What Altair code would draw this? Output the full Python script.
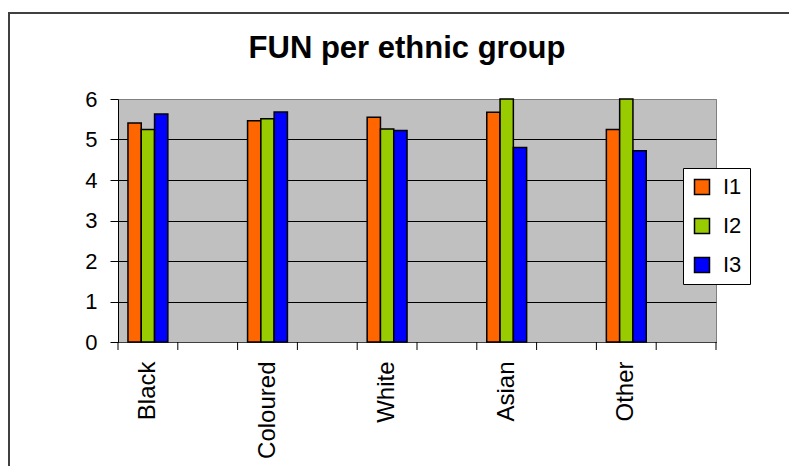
import altair as alt
import pandas as pd

title_text = "FUN per ethnic group"
categories = ["Black", "Coloured", "White", "Asian", "Other"]
series = ["I1", "I2", "I3"]
l1 = [5.41, 5.46, 5.55, 5.67, 5.25]
l2 = [5.25, 5.51, 5.26, 6.00, 6.00]
l3 = [5.63, 5.68, 5.22, 4.80, 4.72]
colors = ["#FF6600", "#99CC00", "#0000FF"]
y_ticks = [0, 1, 2, 3, 4, 5, 6]

rows = []
for s, vals in zip(series, [l1, l2, l3]):
    for c, v in zip(categories, vals):
        rows.append({"group": c, "series": s, "value": v})
df = pd.DataFrame(rows)

# Excel-style axis: every category followed by an empty slot
domain = []
for i, c in enumerate(categories):
    domain += [c, f"_{i}"]

W, H = 598, 243
FONT = "Liberation Sans"

xscale = alt.Scale(domain=domain, paddingInner=0, paddingOuter=0)
xaxis = alt.Axis(
    title=None, labelAngle=270, labelAlign="right", labelBaseline="middle",
    labelFontSize=24, labelFont=FONT, labelColor="black",
    labelExpr="substring(datum.label, 0, 1) == '_' ? '' : datum.label",
    ticks=False, tickSize=0, labelPadding=19, grid=False,
    domainColor="#404040", domainWidth=1, labelLimit=0,
)

border = alt.Chart(alt.Data(values=[{}])).mark_rect(
    filled=False, stroke="#404040", strokeWidth=2
).encode(
    x=alt.value(-109), x2=alt.value(720), y=alt.value(-86), y2=alt.value(420)
)

title = alt.Chart(pd.DataFrame({"t": [title_text]})).mark_text(
    font=FONT, fontSize=31, fontWeight="bold", color="black",
    align="center", baseline="alphabetic",
).encode(text="t:N", x=alt.value(289), y=alt.value(-41))

bars = alt.Chart(df).mark_bar(stroke="black", strokeWidth=1.5).encode(
    x=alt.X("group:N", scale=xscale, sort=domain, axis=xaxis),
    xOffset=alt.XOffset("series:N", sort=series,
                        scale=alt.Scale(paddingInner=0, paddingOuter=0.75)),
    y=alt.Y(
        "value:Q", scale=alt.Scale(domain=[0, 6], nice=False),
        axis=alt.Axis(
            title=None, values=y_ticks, labelFontSize=22, labelFont=FONT,
            labelColor="black", tickSize=8, tickColor="black", labelPadding=13,
            domainColor="black", grid=True,
            gridColor={"condition": {"test": "datum.value == 6", "value": "#808080"},
                       "value": "black"},
        ),
    ),
    color=alt.Color(
        "series:N", sort=series,
        scale=alt.Scale(domain=series, range=colors),
        legend=alt.Legend(
            title=None, orient="none", legendX=565, legendY=69,
            fillColor="white", strokeColor="black", padding=8,
            symbolType="square", symbolSize=225, symbolStrokeColor="black",
            symbolStrokeWidth=1.5, labelFontSize=22, labelFont=FONT,
            labelColor="black", labelOffset=10, rowPadding=17,
        ),
    ),
)

tick_df = pd.DataFrame({"group": domain})
ticks = alt.Chart(tick_df).mark_rule(color="black").encode(
    x=alt.X("group:N", scale=xscale, sort=domain, bandPosition=0, axis=xaxis),
    y=alt.value(H), y2=alt.value(H + 8),
)
end_tick = alt.Chart(pd.DataFrame({"group": [domain[-1]]})).mark_rule(color="black").encode(
    x=alt.X("group:N", scale=xscale, sort=domain, bandPosition=1, axis=xaxis),
    y=alt.value(H), y2=alt.value(H + 8),
)

chart = alt.layer(border, title, bars, ticks, end_tick).properties(
    width=W, height=H,
    autosize=alt.AutoSizeParams(type="none"),
    padding={"left": 118, "top": 99, "right": 73, "bottom": 124},
    background="white",
).configure_view(
    fill="#C0C0C0", stroke="#808080", strokeWidth=1
)

chart.save("out.html", embed_options={"renderer": "svg", "actions": False})
